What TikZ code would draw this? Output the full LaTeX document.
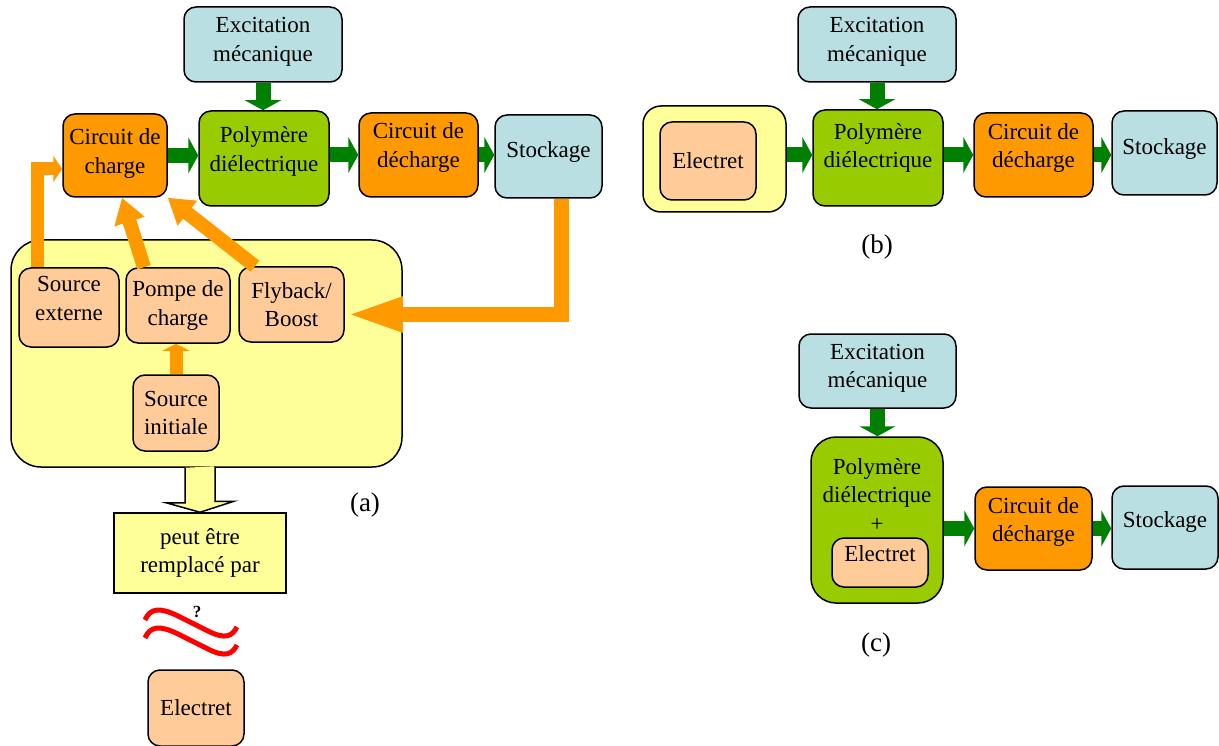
\documentclass[tikz,border=0pt]{standalone}
\usepackage{fontspec}
\setmainfont{Liberation Serif}
\usetikzlibrary{arrows.meta}
\definecolor{bleu}{RGB}{185,223,227}
\definecolor{corange}{RGB}{255,153,0}
\definecolor{vert}{RGB}{153,204,0}
\definecolor{peche}{RGB}{255,204,153}
\definecolor{jaune}{RGB}{255,255,153}
\definecolor{fleche}{RGB}{0,128,0}
\tikzset{
  txt/.style={font=\fontsize{23}{28.5}\selectfont, align=center},
  lbl/.style={font=\fontsize{27}{30}\selectfont},
  boite/.style={txt, draw, line width=1.5pt, rounded corners=12pt, inner sep=0pt},
  lift/.style={text depth=#1},
  gfl/.style={line width=15pt, fleche, -{Triangle[width=36pt,length=10pt]}},
  ofl/.style={line width=14pt, corange, line join=miter, -{Triangle[width=30pt,length=25pt]}}
}
\begin{document}
\begin{tikzpicture}[x=1pt,y=-1pt]
\useasboundingbox (0,0) rectangle (1219,746);
% (a)
\node[boite, fill=jaune, rounded corners=30pt, minimum width=391pt, minimum height=227pt] (yelA) at (206.5,353.5) {};
\node[boite, fill=bleu, lift=10pt, minimum width=158pt, minimum height=75pt] (excA) at (263,44.5) {Excitation\\mécanique};
\node[boite, fill=corange, lift=9pt, minimum width=104pt, minimum height=83pt] (chargeA) at (115,155.5) {Circuit de\\charge};
\node[boite, fill=vert, lift=19pt, minimum width=130pt, minimum height=95pt] (polyA) at (264,158.5) {Polymère\\diélectrique};
\node[boite, fill=corange, lift=20pt, minimum width=119pt, minimum height=84pt] (dechA) at (418.5,155) {Circuit de\\décharge};
\node[boite, fill=bleu, lift=13pt, minimum width=107pt, minimum height=83pt] (stockA) at (548.5,156.5) {Stockage};
\node[boite, fill=peche, lift=18pt, minimum width=100pt, minimum height=79pt] (srcExt) at (69,307.5) {Source\\externe};
\node[boite, fill=peche, minimum width=104pt, minimum height=75pt] (pompe) at (178,305.5) {Pompe de\\charge};
\node[boite, fill=peche, minimum width=105pt, minimum height=75pt] (flyback) at (291.5,304.5) {Flyback/\\Boost};
\node[boite, fill=peche, minimum width=86pt, minimum height=76pt] (srcInit) at (176,413) {Source\\initiale};
\node[boite, sharp corners, fill=jaune, minimum width=172pt, minimum height=80pt] (remplace) at (200,553) {peut être\\remplacé par};
\node[boite, fill=peche, minimum width=96pt, minimum height=76pt] (electA) at (196,708) {Electret};
\node[lbl] (labA) at (365,505) {(a)};
\draw[gfl] (excA.south) -- (excA.south |- polyA.north);
\draw[gfl] (chargeA.east) -- (chargeA.east -| polyA.west);
\draw[gfl] (dechA.west -| polyA.east) -- (dechA.west);
\draw[gfl] (dechA.east) -- (dechA.east -| stockA.west);
\draw[ofl, line width=13pt, -{Triangle[width=26pt,length=9pt]}] ([xshift=19.5pt]srcExt.north west) |- ([yshift=-13.5pt]chargeA.west);
\draw[ofl] ([xshift=-34pt]pompe.north) -- ([xshift=7pt]chargeA.south);
\draw[ofl] ([xshift=-36.5pt]flyback.north) -- (chargeA.south east);
\draw[ofl, line width=15pt, -{Triangle[width=31pt,length=58pt]}] ([xshift=13pt]stockA.south) |- ([yshift=-10pt]flyback.east);
\draw[ofl, line width=13pt, -{Triangle[width=27pt,length=7pt]}] (srcInit.north) -- (srcInit.north |- pompe.south);
\draw[line width=1.5pt, fill=jaune, line join=miter] ([xshift=-15pt]remplace.north |- yelA.south) -- ++(0,35) -- ++(-19,0) -- (remplace.north) -- ++(34,-11) -- ++(-19,0) -- ++(0,-35);
\node[font=\bfseries\fontsize{17}{20}\selectfont] (quest) at (197,612) {?};
\foreach \d in {0,18}
  \draw[red, line width=5pt] (145,620+\d) .. controls (150,608+\d) and (160,607+\d) .. (178,616+\d) -- (208,631+\d) .. controls (226,640+\d) and (232,636+\d) .. (237,627+\d);
% (b)
\node[boite, fill=jaune, rounded corners=18pt, minimum width=143pt, minimum height=106pt] (yelB) at (714.5,159) {};
\node[boite, fill=peche, minimum width=96pt, minimum height=78pt] (electB) at (708,161) {Electret};
\node[boite, fill=bleu, lift=10pt, minimum width=158pt, minimum height=75pt] (excB) at (877,44.5) {Excitation\\mécanique};
\node[boite, fill=vert, lift=25pt, minimum width=130pt, minimum height=96pt] (polyB) at (878,158) {Polymère\\diélectrique};
\node[boite, fill=corange, lift=19pt, minimum width=119pt, minimum height=84pt] (dechB) at (1033.5,155) {Circuit de\\décharge};
\node[boite, fill=bleu, lift=12pt, minimum width=105pt, minimum height=84pt] (stockB) at (1164.5,153) {Stockage};
\node[lbl] (labB) at (877,247) {(b)};
\draw[gfl] (excB.south) -- (excB.south |- polyB.north);
\draw[gfl] (yelB.east |- dechB.west) -- (polyB.west |- dechB.west);
\draw[gfl] (dechB.west -| polyB.east) -- (dechB.west);
\draw[gfl] (dechB.east) -- (dechB.east -| stockB.west);
% (c)
\node[boite, fill=bleu, lift=10pt, minimum width=157pt, minimum height=74pt] (excC) at (877.5,371) {Excitation\\mécanique};
\node[boite, fill=vert, rounded corners=25pt, minimum width=132pt, minimum height=166pt] (polyC) at (877,520) {};
\node[txt] (polyCtxt) at (877,494.7) {Polymère\\diélectrique\\+};
\node[boite, fill=peche, lift=17pt, minimum width=96pt, minimum height=49pt] (electC) at (880,562.5) {Electret};
\node[boite, fill=corange, lift=18pt, minimum width=117pt, minimum height=83pt] (dechC) at (1033.5,528.5) {Circuit de\\décharge};
\node[boite, fill=bleu, lift=15pt, minimum width=106pt, minimum height=83pt] (stockC) at (1165,527.5) {Stockage};
\node[lbl] (labC) at (876,645) {(c)};
\draw[gfl] (excC.south) -- (excC.south |- polyC.north);
\draw[gfl] (dechC.west -| polyC.east) -- (dechC.west);
\draw[gfl] (dechC.east) -- (dechC.east -| stockC.west);
\end{tikzpicture}
\end{document}
